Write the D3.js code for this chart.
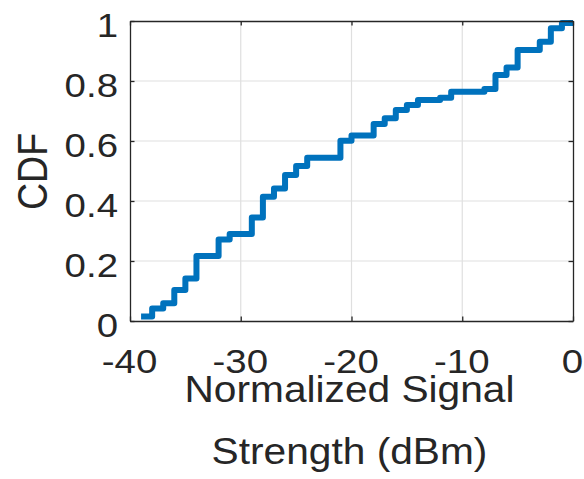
<!DOCTYPE html>
<html>
<head>
<meta charset="utf-8">
<script src="https://cdn.jsdelivr.net/npm/d3@7"></script>
<style>
  html, body { margin: 0; padding: 0; background: #fff; }
  svg { display: block; font-family: "Liberation Sans", Arial, Helvetica, sans-serif; }
</style>
</head>
<body>
<svg id="chart" width="584" height="479"></svg>
<script>
// Step edges of the empirical CDF (dBm) and the CDF level held on each interval
const stepEdges = [-39, -38, -37, -36, -35, -34, -32, -31, -29, -28, -27, -26, -25, -24,
                   -21, -20, -18, -17, -16, -15, -14, -12, -11, -8, -7, -6, -5, -3, -2, -1, 0];
const cdfLevels = [0.015, 0.042, 0.059, 0.103, 0.142, 0.217, 0.272, 0.290, 0.345, 0.414,
                   0.442, 0.487, 0.517, 0.544, 0.601, 0.618, 0.657, 0.676, 0.703, 0.720,
                   0.737, 0.744, 0.764, 0.773, 0.820, 0.845, 0.903, 0.931, 0.976, 0.993];
const xTicks = [-40, -30, -20, -10, 0];
const yTicks = [0, 0.2, 0.4, 0.6, 0.8, 1];
const xTickLabels = ["-40", "-30", "-20", "-10", "0"];
const yTickLabels = ["0", "0.2", "0.4", "0.6", "0.8", "1"];
const xLabelLines = ["Normalized Signal", "Strength (dBm)"];
const yLabel = "CDF";

const svg = d3.select("#chart");
const plot = { left: 130, right: 573, top: 21, bottom: 321 };
const axisColor = "#262626";
const gridColor = "#dfdfdf";
const tickFont = 34, labelFont = 37.5;
const tickStretch = 1.13;    // horizontal widening of the tick lettering
const labelStretch = 1.085;  // horizontal widening of the axis titles
const tickLen = 4.5;

const x = d3.scaleLinear().domain([-40, 0]).range([plot.left, plot.right]);
const y = d3.scaleLinear().domain([0, 1]).range([plot.bottom, plot.top]);

// grid
const grid = svg.append("g");
grid.selectAll("line.gx").data(xTicks.slice(1, -1)).join("line")
  .attr("x1", d => x(d)).attr("x2", d => x(d))
  .attr("y1", plot.top).attr("y2", plot.bottom)
  .attr("stroke", gridColor).attr("stroke-width", 1.2);
grid.selectAll("line.gy").data(yTicks.slice(1, -1)).join("line")
  .attr("y1", d => y(d)).attr("y2", d => y(d))
  .attr("x1", plot.left).attr("x2", plot.right)
  .attr("stroke", gridColor).attr("stroke-width", 1.2);

// CDF staircase
const pts = cdfLevels.map((v, i) => [stepEdges[i], v]);
pts.push([stepEdges[stepEdges.length - 1], cdfLevels[cdfLevels.length - 1]]);
const line = d3.line()
  .x(d => x(d[0])).y(d => y(d[1]))
  .curve(d3.curveStepAfter);
svg.append("path")
  .attr("d", line(pts))
  .attr("fill", "none")
  .attr("stroke", "#0072BD")
  .attr("stroke-width", 6)
  .attr("stroke-linejoin", "round")
  .attr("stroke-linecap", "butt");

// axes box with inward ticks on all four sides
const xAxisB = d3.axisBottom(x).tickValues(xTicks).tickSizeInner(-tickLen).tickSizeOuter(0)
  .tickFormat((d, i) => xTickLabels[i]);
const xAxisT = d3.axisTop(x).tickValues(xTicks).tickSizeInner(-tickLen).tickSizeOuter(0).tickFormat("");
const yAxisL = d3.axisLeft(y).tickValues(yTicks).tickSizeInner(-tickLen).tickSizeOuter(0)
  .tickFormat((d, i) => yTickLabels[i]);
const yAxisR = d3.axisRight(y).tickValues(yTicks).tickSizeInner(-tickLen).tickSizeOuter(0).tickFormat("");

function style(g) {
  g.select(".domain").attr("stroke", axisColor).attr("stroke-width", 1.3);
  g.selectAll(".tick line").attr("stroke", axisColor).attr("stroke-width", 1.3);
  g.selectAll(".tick text").attr("fill", axisColor)
    .attr("font-size", tickFont).attr("font-family", "Liberation Sans, Arial, sans-serif");
}
svg.append("g").attr("transform", `translate(0,${plot.bottom})`).call(xAxisB).call(style)
  .selectAll(".tick text")
  .attr("x", 0).attr("y", 0).attr("dy", null)
  .attr("transform", `translate(-1,52) scale(${tickStretch},1)`);
svg.append("g").attr("transform", `translate(0,${plot.top})`).call(xAxisT).call(style);
svg.append("g").attr("transform", `translate(${plot.left},0)`).call(yAxisL).call(style)
  .selectAll(".tick text")
  .attr("x", 0).attr("dy", "0.45em")
  .attr("transform", `translate(-12,0) scale(${tickStretch},1)`);
svg.append("g").attr("transform", `translate(${plot.right},0)`).call(yAxisR).call(style);

// axis labels
const cx = (plot.left + plot.right) / 2;
svg.append("g").selectAll("text").data(xLabelLines).join("text")
  .attr("transform", (d, i) => `translate(${cx - 2},${402 + i * 61.5}) scale(${labelStretch},1)`)
  .attr("text-anchor", "middle")
  .attr("font-size", labelFont).attr("fill", axisColor)
  .text(d => d);
svg.append("text")
  .attr("transform", `translate(46.5,${(plot.top + plot.bottom) / 2 + 0.5}) scale(1.12,1) rotate(-90)`)
  .attr("text-anchor", "middle")
  .attr("font-size", labelFont).attr("fill", axisColor)
  .text(yLabel);
</script>
</body>
</html>
